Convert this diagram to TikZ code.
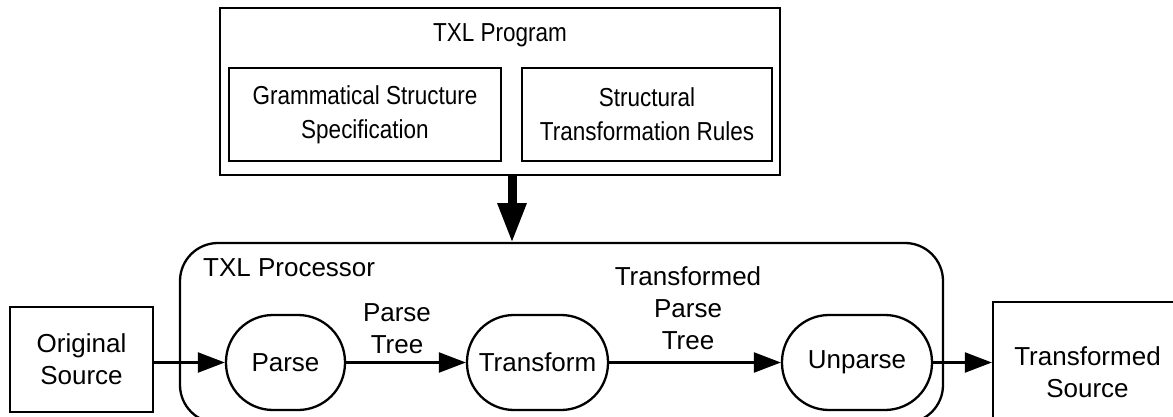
\documentclass[tikz,border=0pt]{standalone}
\usepackage{fontspec}
\setmainfont{Liberation Sans}
\newfontfamily\narrowsf[FakeStretch=0.865]{Liberation Sans}
\usetikzlibrary{arrows.meta,positioning}
\begin{document}
\begin{tikzpicture}[x=1pt,y=-1pt,
  every node/.style={font=\fontsize{26}{32}\selectfont, align=center},
  small/.style={font=\narrowsf\fontsize{26}{34}\selectfont},
  box/.style={draw, line width=2.3pt, inner sep=0pt},
  pill/.style={draw, line width=2.3pt, inner sep=0pt, minimum height=95pt, rounded corners=47pt},
  lbl/.style={inner sep=0pt},
  flow/.style={line width=2.3pt, -{Triangle[length=27pt,width=20pt]}},
  bigflow/.style={line width=9pt, -{Triangle[length=40pt,width=27pt]}, shorten >=0pt}
]
\path[use as bounding box, clip] (0,0) rectangle (1173,417);
% top program box
\node[box, minimum width=560pt, minimum height=167pt] (prog) at (500,91.5) {};
\node[lbl, small] (progt) at (500,35) {TXL Program};
\node[box, small, minimum width=272pt, minimum height=93pt] (gram) at (365,114.5) {Grammatical Structure\\Specification};
\node[box, small, minimum width=250pt, minimum height=93pt] (rules) at (647,114.5) {Structural\\Transformation Rules};
% processor
\node[box, minimum width=763pt, minimum height=180pt, rounded corners=38pt] (proc) at (561.5,333) {};
\node[lbl, anchor=west] (proct) at (203,268) {TXL Processor};
\coordinate (proctop) at (512,243);
\draw[bigflow] (prog.south -| proctop) -- (proctop);
% processing steps
\node[pill, minimum width=119pt] (parse) at (285.5,362.5) {Parse};
\node[pill, minimum width=141pt] (trans) at (537.5,362.5) {Transform};
\node[pill, minimum width=150pt] (unparse) at (857,362.5) {Unparse};
% sources
\node[box, minimum width=143pt, minimum height=105pt] (orig) at (81.5,359.5) {Original\\Source};
\node[box, minimum width=189pt, minimum height=141pt] (tsrc) at (1087.5,372.5) {};
\node[lbl] (tsrct) at (1087.5,372.5) {Transformed\\Source};
% labels
\node[lbl] (pt) at (397,329) {Parse\\Tree};
\node[lbl] (tpt) at (688,308) {Transformed\\Parse\\Tree};
% connectors
\draw[flow] (parse.west -| orig.east) -- (parse.west);
\draw[flow] (parse.east) -- (trans.west);
\draw[flow] (trans.east) -- (unparse.west);
\draw[flow] (unparse.east) -- (unparse.east -| tsrc.west);
\end{tikzpicture}
\end{document}
